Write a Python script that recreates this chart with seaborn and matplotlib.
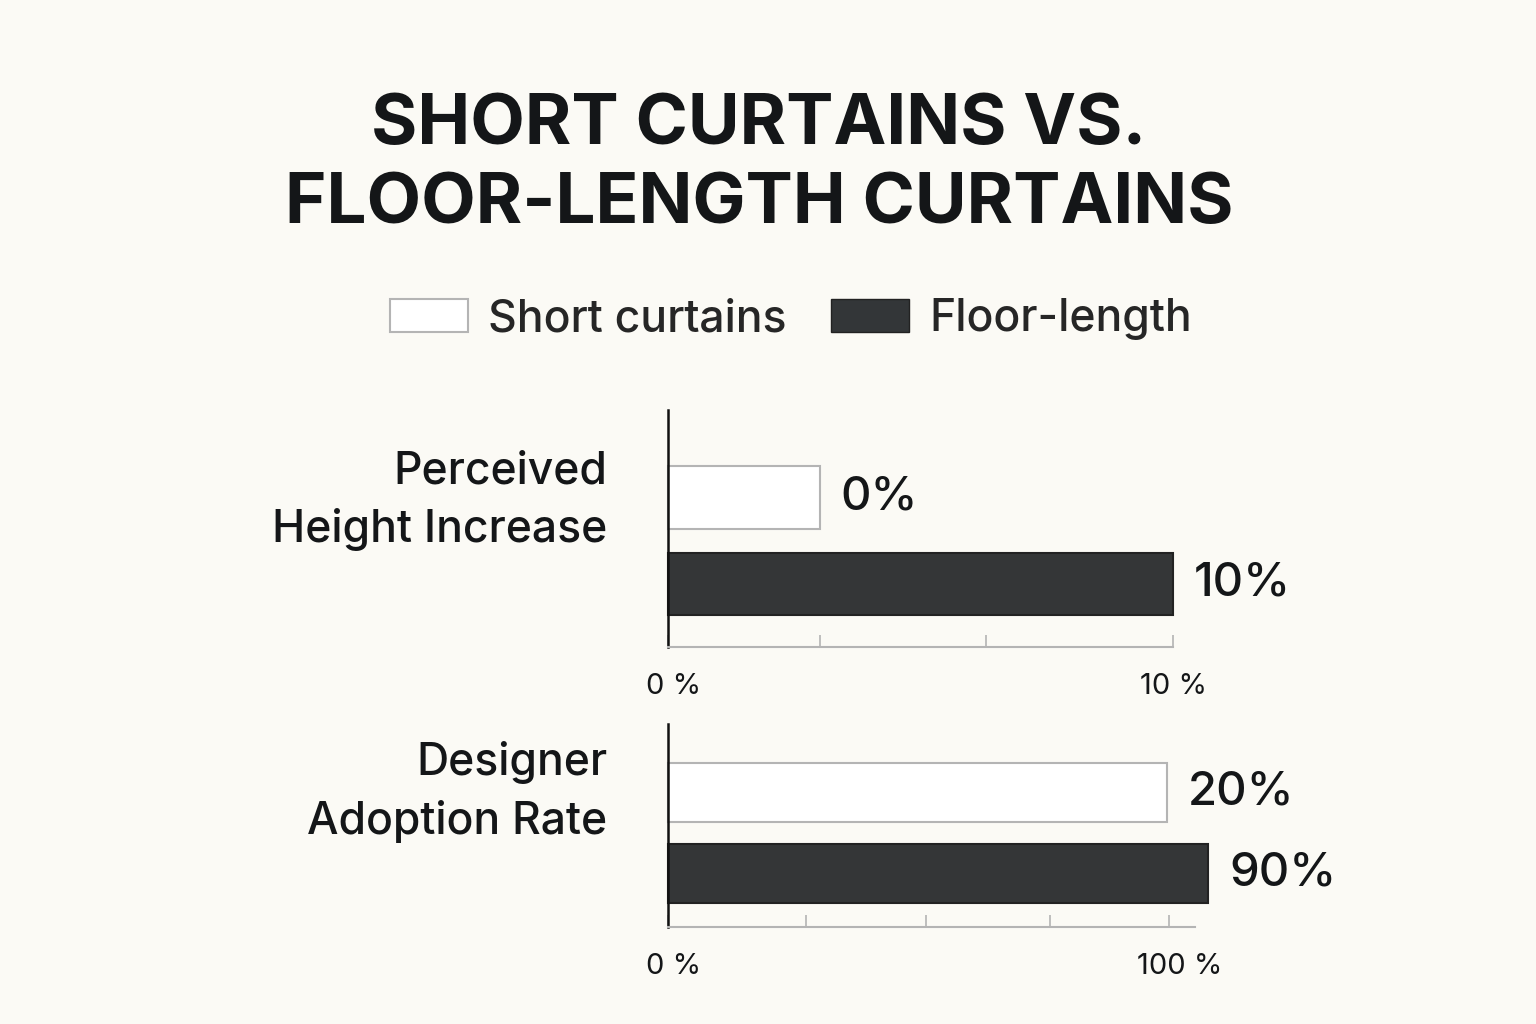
import seaborn as sns
import matplotlib.pyplot as plt
import pandas as pd
from matplotlib.patches import Patch
from matplotlib.transforms import ScaledTranslation

# data
metrics = ["Perceived\nHeight Increase", "Designer\nAdoption Rate"]
series = ["Short curtains", "Floor-length"]
short_values = [0, 20]     # printed next to the bars
floor_values = [10, 90]
# bar ends as drawn, in each panel's own axis units
short_drawn = [3.0, 99.6]
floor_drawn = [10.0, 107.8]
axis_max = [10, 100]
axis_end = [10, 105.2]
tick_marks = [[3.0, 6.3], [27.5, 51.5, 76.2]]

bg = "#FBFAF5"
dark = "#333638"
light_edge = "#B4B4B4"
ink = "#141618"

sns.set_style("white")
plt.rcParams["font.family"] = ["Inter", "DejaVu Sans"]

fig = plt.figure(figsize=(15.36, 10.24), dpi=100, facecolor=bg)

fig.text(0.494, 1 - 165 / 1024, "SHORT CURTAINS VS.\nFLOOR-LENGTH CURTAINS",
         ha="center", va="center", fontsize=51, fontweight="bold",
         color=ink, linespacing=1.28)

handles = [Patch(facecolor="white", edgecolor=light_edge, linewidth=1.5),
           Patch(facecolor=dark, edgecolor="#222")]
fig.legend(handles, series, loc="center", bbox_to_anchor=(0.515, 1 - 319 / 1024),
           ncol=2, frameon=False, handlelength=1.75, handleheight=0.75,
           handletextpad=0.45, columnspacing=1.0,
           prop={"size": 32, "weight": "medium"})

# axes boxes in pixels: (top, bottom)
boxes = [(410, 647), (724, 927)]
ylims = [(1.728, -1.01), (1.66, -0.846)]
label_y = [(472 + 530) / 2, (762 + 822) / 2]
# nudges of the end tick labels, in pixels
label_shift = [(6, 0), (6, 11)]

left = 668 / 1536
width = (1300 - 668) / 1536

for i, metric in enumerate(metrics):
    top, bottom = boxes[i]
    ax = fig.add_axes([left, 1 - bottom / 1024, width, (bottom - top) / 1024])
    ax.set_facecolor(bg)
    df = pd.DataFrame({"series": series,
                       "drawn": [short_drawn[i], floor_drawn[i]]})
    sns.barplot(data=df, x="drawn", y="series", hue="series",
                palette=["white", dark], orient="h", width=0.72,
                legend=False, ax=ax)
    edges = [light_edge, "#222"]
    texts = [f"{short_values[i]}%", f"{floor_values[i]}%"]
    for j, cont in enumerate(ax.containers):
        for p in cont:
            p.set_edgecolor(edges[j])
            p.set_linewidth(1.5)
            p.set_clip_on(False)
        ax.bar_label(cont, labels=[texts[j]], padding=15, fontsize=34,
                     fontweight="medium", color=ink)

    scale = (1300 - 668) / ((1173 - 668) if i == 0 else (1169 - 668))
    ax.set_xlim(0, axis_max[i] * scale)
    ax.set_ylim(*ylims[i])

    for s in ["top", "right"]:
        ax.spines[s].set_visible(False)
    ax.spines["left"].set_color("#111")
    ax.spines["left"].set_linewidth(1.8)
    ax.spines["bottom"].set_color(light_edge)
    ax.spines["bottom"].set_linewidth(1.5)
    ax.spines["bottom"].set_bounds(0, axis_end[i])

    ax.set_yticks([])
    ax.set_ylabel("")
    ax.set_xlabel("")
    ax.set_xticks([0, axis_max[i]])
    ax.set_xticklabels(["0 %", f"{axis_max[i]} %"])
    ax.set_xticks(tick_marks[i], minor=True)
    ax.tick_params(axis="x", which="both", direction="in", length=9,
                   width=1.2, color=light_edge, labelsize=21, pad=19,
                   labelcolor=ink, bottom=True)
    for lab, dx in zip(ax.get_xticklabels(), label_shift[i]):
        lab.set_transform(lab.get_transform()
                          + ScaledTranslation(dx / 100, 0, fig.dpi_scale_trans))

    fig.text(607 / 1536, 1 - label_y[i] / 1024, metric, ha="right",
             va="center", multialignment="right", fontsize=32,
             fontweight="medium", color=ink, linespacing=1.45)

fig.savefig("out.png", dpi=100, facecolor=bg)
